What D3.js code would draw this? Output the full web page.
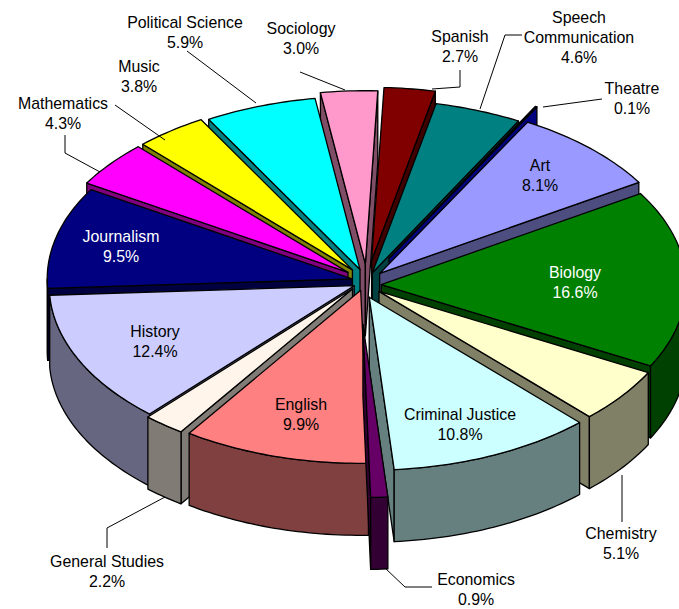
<!DOCTYPE html>
<html lang="en">
<head>
    <meta charset="UTF-8">
    <title>Majors</title>
    <script src="https://d3js.org/d3.v7.min.js"></script>
    <style>
        html, body { margin: 0; padding: 0; background: #fff; }
        svg { display: block; }
        text { font-family: "Liberation Sans", Arial, sans-serif; font-size: 15.9px; text-anchor: middle; }
    </style>
</head>
<body>
<script>

    var width = 679,
        height = 609;

    // data
    var majors = ["Art", "Biology", "Chemistry", "Criminal Justice", "Economics", "English", "General Studies", "History",
        "Journalism", "Mathematics", "Music", "Political Science", "Sociology", "Spanish", "Speech Communication", "Theatre"];
    var shares = [8.1, 16.6, 5.1, 10.8, 0.9, 9.9, 2.2, 12.4, 9.5, 4.3, 3.8, 5.9, 3.0, 2.7, 4.6, 0.1];
    var colors = ["#9999ff", "#008000", "#ffffcc", "#ccffff", "#660066", "#ff8080", "#fff5ea", "#ccccff",
        "#000080", "#ff00ff", "#ffff00", "#00ffff", "#ff99cc", "#800000", "#008080", "#000080"];

    // layout
    var cx = 367, cy = 281, rx = 305, ry = 173, depth = 72;
    var startDeg = 29;

    // how far each slice is pulled out (fraction of the radius)
    var pull = { "Art": 0.06, "Chemistry": 0.07, "Criminal Justice": 0.09, "Economics": 0.24, "Mathematics": 0.08, "Music": 0.08,
        "Political Science": 0.07, "Sociology": 0.10, "Spanish": 0.12, "Theatre": 0.15 };
    var defaultPull = 0.05;

    // small pixel corrections, the original has some perspective in it
    var nudge = { "Biology": [-1, 4], "Chemistry": [-5, 3], "Criminal Justice": [-9, 2], "Economics": [-8, 2],
        "English": [-2, 1], "General Studies": [-5, 1], "History": [1, 1] };

    // label centres and leader lines
    var labelAt = {
        "Art": [540, 171], "Biology": [575, 278], "Chemistry": [621, 539], "Criminal Justice": [460, 420],
        "Economics": [476, 585], "English": [301, 410], "General Studies": [107, 567], "History": [155, 337],
        "Journalism": [121, 242], "Mathematics": [63, 109], "Music": [139, 72], "Political Science": [185, 28],
        "Sociology": [301, 34], "Spanish": [460, 42], "Speech Communication": [579, 23], "Theatre": [632, 94]
    };
    var leaders = [
        [[187, 51], [256, 103]],
        [[300, 72], [345, 90]],
        [[460, 70], [460, 87], [432, 89]],
        [[522, 35], [505, 35], [480, 109]],
        [[602, 99], [543, 107]],
        [[65, 135], [65, 153], [100, 172]],
        [[115, 105], [165, 140]],
        [[622, 475], [622, 522]],
        [[432, 587], [405, 587], [385, 568]],
        [[107, 548], [107, 528], [165, 497]]
    ];
    var whiteLabels = ["Journalism", "Biology"];

    var x = d3.scaleLinear().domain([-1, 1]).range([cx - rx, cx + rx]);
    var y = d3.scaleLinear().domain([-1, 1]).range([cy - ry, cy + ry]);

    var svg = d3.select("body").append("svg")
        .attr("width", width)
        .attr("height", height);

    var pie = d3.pie().sort(null)
        .startAngle(startDeg * Math.PI / 180)
        .endAngle(startDeg * Math.PI / 180 + 2 * Math.PI);

    var slices = pie(shares).map(function(d, i) {
        var mid = (d.startAngle + d.endAngle) / 2;
        var p = pull[majors[i]] === undefined ? defaultPull : pull[majors[i]];
        var n = nudge[majors[i]] || [0, 0];
        return { i: i, a: d.startAngle, b: d.endAngle, mid: mid, ox: p * Math.sin(mid), oy: -p * Math.cos(mid), dx: n[0], dy: n[1] };
    });

    function pt(s, t, r) {
        return [x(s.ox + r * Math.sin(t)) + s.dx, y(s.oy - r * Math.cos(t)) + s.dy];
    }

    function arcPts(s, a, b) {
        var n = Math.max(2, Math.ceil((b - a) / 0.02)), out = [];
        for (var k = 0; k <= n; k++) out.push(pt(s, a + (b - a) * k / n, 1));
        return out;
    }

    function down(p) { return [p[0], p[1] + depth]; }

    var line = d3.line();

    function shade(c) {
        var r = d3.rgb(c);
        return d3.rgb(r.r * 0.5, r.g * 0.5, r.b * 0.5).formatHex();
    }

    function drawFace(points, fill) {
        svg.append("path")
            .attr("d", line(points) + "Z")
            .attr("fill", fill)
            .attr("stroke", "#000")
            .attr("stroke-width", 1.3)
            .attr("stroke-linejoin", "round");
    }

    // back slices first
    slices.slice().sort(function(p, q) { return Math.cos(q.mid) - Math.cos(p.mid); }).forEach(function(s) {
        var fill = colors[s.i];
        // the Theatre sliver keeps its own colour on the cut face
        var dark = majors[s.i] === "Theatre" ? fill : shade(fill);
        var apex = pt(s, 0, 0);

        // the cut face that looks towards the viewer
        [s.a, s.b].forEach(function(t, j) {
            var seen = j === 0 ? Math.sin(t) < 0 : Math.sin(t) > 0;
            if (seen) {
                var rim = pt(s, t, 1);
                drawFace([apex, rim, down(rim), down(apex)], dark);
            }
        });

        // outer wall, front half of the ellipse only
        [[Math.PI / 2, 3 * Math.PI / 2], [Math.PI / 2 + 2 * Math.PI, 3 * Math.PI / 2 + 2 * Math.PI]].forEach(function(front) {
            var a = Math.max(s.a, front[0]), b = Math.min(s.b, front[1]);
            if (b > a) {
                var top = arcPts(s, a, b);
                drawFace(top.concat(top.slice().reverse().map(down)), dark);
            }
        });

        // top
        drawFace([apex].concat(arcPts(s, s.a, s.b)), fill);
    });

    leaders.forEach(function(l) {
        svg.append("path")
            .attr("d", line(l))
            .attr("fill", "none")
            .attr("stroke", "#000")
            .attr("stroke-width", 1);
    });

    majors.forEach(function(name, i) {
        var at = labelAt[name];
        var lines = name === "Speech Communication" ? ["Speech", "Communication"] : [name];
        lines.push(shares[i].toFixed(1) + "%");
        var t = svg.append("text")
            .attr("fill", whiteLabels.indexOf(name) >= 0 ? "#fff" : "#000");
        lines.forEach(function(txt, k) {
            t.append("tspan")
                .attr("x", at[0])
                .attr("y", at[1] + k * 20)
                .text(txt);
        });
    });

</script>
</body>
</html>
